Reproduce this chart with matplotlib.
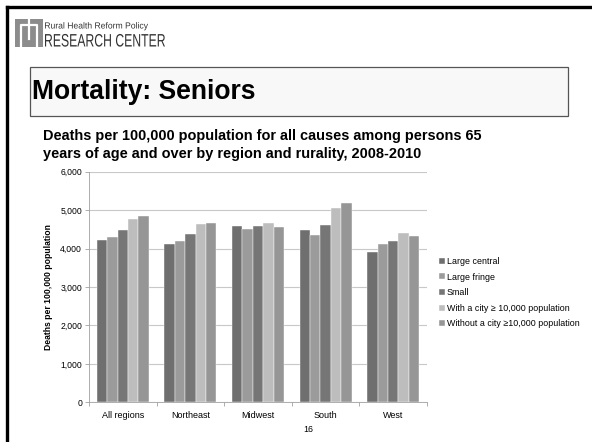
import matplotlib
matplotlib.use("Agg")
import matplotlib.pyplot as plt
from matplotlib.patches import Rectangle, PathPatch
from matplotlib.lines import Line2D
from matplotlib.textpath import TextPath
from matplotlib.font_manager import FontProperties
from matplotlib.transforms import Affine2D
import numpy as np

regions = ["All regions", "Northeast", "Midwest", "South", "West"]
series_names = ["Large central", "Large fringe", "Small",
                "With a city \u2265 10,000 population",
                "Without a city \u226510,000 population"]
large_central = [4217, 4120, 4582, 4486, 3911]
large_fringe = [4313, 4190, 4522, 4340, 4130]
small = [4486, 4390, 4600, 4608, 4190]
with_city = [4773, 4627, 4668, 5044, 4400]
without_city = [4835, 4668, 4574, 5190, 4321]
y_ticks = [0, 1000, 2000, 3000, 4000, 5000, 6000]
y_ticklabels = ["0", "1,000", "2,000", "3,000", "4,000", "5,000", "6,000"]

colors = ["#6f6f6f", "#9b9b9b", "#767676", "#bdbdbd", "#969696"]
FONT = ["Liberation Sans", "DejaVu Sans"]
plt.rcParams['font.family'] = FONT

W, H = 592, 442
fig = plt.figure(figsize=(W / 100, H / 100), dpi=100)
fig.patch.set_facecolor("white")

def fx(x):
    return x / W

def fy(y):
    return 1 - y / H

# slide frame (top and left edges)
fig.add_artist(Line2D([fx(7), fx(7)], [fy(7), fy(442)], color="black", lw=2.4,
                      transform=fig.transFigure))
fig.add_artist(Line2D([fx(7), fx(592)], [fy(7), fy(7)], color="black", lw=2.4,
                      transform=fig.transFigure))

# logo icon
fig.add_artist(Rectangle((fx(15), fy(47)), fx(28), 28 / H, transform=fig.transFigure,
                         facecolor="#8c8c8c", edgecolor="none"))
for xs, ys in [([21, 21, 37, 37], [47, 25, 25, 47]),
               ([29, 29], [19, 39])]:
    fig.add_artist(Line2D([fx(v) for v in xs], [fy(v) for v in ys], color="white",
                          lw=1.6, transform=fig.transFigure))

# condensed logo text drawn as paths (display pixels)
def narrow_text(s, x_left, y_base, size_px, target_w, color="#333333"):
    tp = TextPath((0, 0), s, size=size_px, prop=FontProperties(family="Liberation Sans"))
    ext = tp.get_extents()
    sx = target_w / ext.width
    tr = Affine2D().translate(-ext.x0, 0).scale(sx, 1).translate(x_left, H - y_base)
    fig.add_artist(PathPatch(tp, transform=tr, facecolor=color, edgecolor="none"))

narrow_text("Rural Health Reform Policy", 45, 28.5, 8.8, 103)
narrow_text("RESEARCH CENTER", 45, 46.5, 18.0, 120)

# title box
fig.add_artist(Rectangle((fx(30), fy(116)), fx(538), 49 / H, transform=fig.transFigure,
                         facecolor="#f8f8f8", edgecolor="#555555", lw=0.9))
fig.text(fx(32), fy(92), "Mortality: Seniors", fontsize=19.1, fontweight="bold",
         va="center", ha="left", color="black")

# subtitle
fig.text(fx(43), fy(136), "Deaths per 100,000 population for all causes among persons 65",
         fontsize=10.45, fontweight="bold", va="center", ha="left", color="black")
fig.text(fx(43), fy(154), "years of age and over by region and rurality, 2008-2010",
         fontsize=10.45, fontweight="bold", va="center", ha="left", color="black")

# chart
ax = fig.add_axes([fx(89), fy(402.3), fx(338), 230.6 / H])
data = [large_central, large_fringe, small, with_city, without_city]
x = np.arange(len(regions))
bw = 0.154
for i, (vals, c, name) in enumerate(zip(data, colors, series_names)):
    ax.bar(x + (i - 2) * bw, vals, width=bw, color=c, label=name, zorder=3,
           edgecolor="white", linewidth=0.3)

ax.set_xlim(-0.5, len(regions) - 0.5)
ax.set_ylim(0, 6000)
ax.set_yticks(y_ticks)
ax.set_yticklabels(y_ticklabels, fontsize=6.2)
ax.set_xticks(x)
ax.set_xticklabels(regions, fontsize=6.5)
ax.set_xticks(np.arange(-0.5, len(regions)), minor=True)
ax.tick_params(axis="x", which="major", length=0, pad=6)
ax.tick_params(axis="x", which="minor", length=3, color="#a0a0a0", width=0.6)
ax.tick_params(axis="y", length=3, color="#a0a0a0", width=0.6, pad=2)
ax.grid(axis="y", color="#c8c8c8", lw=0.8, zorder=0)
for s in ["top", "right"]:
    ax.spines[s].set_visible(False)
ax.spines["left"].set_color("#a0a0a0")
ax.spines["bottom"].set_color("#a0a0a0")
ax.spines["left"].set_linewidth(0.6)
ax.spines["bottom"].set_linewidth(0.6)
ax.set_ylabel("Deaths per 100,000 population", fontsize=6.2, fontweight="bold",
              labelpad=5)

leg = fig.legend(loc="upper left", bbox_to_anchor=(fx(439), fy(257)),
                 frameon=False, fontsize=6.4, handlelength=0.65, handleheight=0.65,
                 handletextpad=0.2, labelspacing=0.74, borderaxespad=0, borderpad=0)

fig.text(fx(308), fy(430), "16", fontsize=6.3, ha="center", va="center")

fig.savefig("out.png", dpi=100, facecolor="white")
